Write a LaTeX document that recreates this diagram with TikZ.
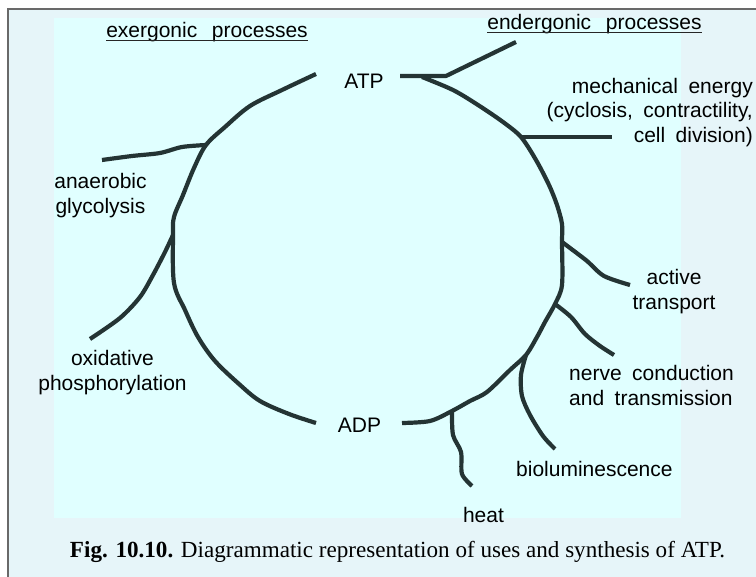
\documentclass[tikz,border=0pt]{standalone}
\usepackage{fontspec}
\setmainfont{Liberation Serif}
\newfontfamily\labfont{Liberation Sans}
\newcommand{\wgap}{\hspace{0.5em}}
\newcommand{\hgap}{\hspace{0.7em}}
\definecolor{outerbg}{RGB}{230,245,249}
\definecolor{innerbg}{RGB}{224,255,255}
\definecolor{framegray}{RGB}{105,105,105}
\definecolor{ink}{RGB}{36,52,52}
\begin{document}
\begin{tikzpicture}[x=1pt,y=-1pt,
  lab/.style={font=\labfont\fontsize{21}{24.5}\selectfont, inner sep=0pt, text=black},
  cyc/.style={draw=ink, line width=4.2pt, line cap=butt, line join=round},
  uline/.style={line width=1.4pt, draw=black!85}
]
\useasboundingbox (0,0) rectangle (756,577);
\fill[white] (0,0) rectangle (756,577);
\fill[outerbg] (8,9) rectangle (756,577);
\fill[innerbg] (54,18) rectangle (681,518);
\draw[framegray, line width=2pt] (8,577) -- (8,9) -- (756,9);

% headings
\node[lab, anchor=base] (exer) at (207,37.5) {exergonic\hgap processes};
\draw[uline] ([yshift=-3pt]exer.base west) -- ([yshift=-3pt]exer.base east);
\node[lab, anchor=base] (ender) at (594.5,30) {endergonic\hgap processes};
\draw[uline] ([yshift=-2.7pt]ender.base west) -- ([yshift=-2.7pt]ender.base east);

% labels
\node[lab, anchor=base] (atp) at (364,89) {ATP};
\node[lab, anchor=base] (adp) at (359.5,433) {ADP};
\node[lab, anchor=base east] (mech) at (753,93.3) {\begin{tabular}[t]{@{}r@{}}mechanical\wgap energy\\(cyclosis,\wgap contractility,\\cell\wgap division)\end{tabular}};
\node[lab, anchor=base] (anaer) at (100.5,189) {\begin{tabular}[t]{@{}c@{}}anaerobic\\glycolysis\end{tabular}};
\node[lab, anchor=base] (oxid) at (112.5,366) {\begin{tabular}[t]{@{}c@{}}oxidative\\phosphorylation\end{tabular}};
\node[lab, anchor=base] (activ) at (674,285) {\begin{tabular}[t]{@{}c@{}}active\\transport\end{tabular}};
\node[lab, anchor=base west] (nerve) at (569,381) {\begin{tabular}[t]{@{}l@{}}nerve\wgap conduction\\and\wgap transmission\end{tabular}};
\node[lab, anchor=base west] (biolum) at (516,477) {bioluminescence};
\node[lab, anchor=base] (heat) at (483.5,523) {heat};

% caption
\node[anchor=base, inner sep=0pt, font=\fontsize{23.1}{27}\selectfont] (cap) at (397.5,558)
  {\textbf{Fig. 10.10.} Diagrammatic representation of uses and synthesis of ATP.};

% left half of the cycle (ATP -> ADP, synthesis)
\coordinate (L0) at (316,74);
\coordinate (L1) at (282,90);
\coordinate (L2) at (250,106);
\coordinate (L3) at (225,127);
\coordinate (J1) at (206,145);
\coordinate (L4) at (194,168);
\coordinate (L5) at (183,195);
\coordinate (L6) at (174,217);
\coordinate (J2) at (173,235);
\coordinate (L7) at (174,283);
\coordinate (L8) at (185,310);
\coordinate (L9) at (198,337);
\coordinate (L10) at (215,361);
\coordinate (L11) at (239,384);
\coordinate (L12) at (260,401);
\coordinate (L13) at (289,414);
\coordinate (L14) at (316,423);
\draw[cyc] plot[smooth, tension=0.55] coordinates {(L0) (L1) (L2) (L3) (J1) (L4) (L5) (L6) (J2) (L7) (L8) (L9) (L10) (L11) (L12) (L13) (L14)};

% anaerobic glycolysis branch
\coordinate (A1) at (182,147);
\coordinate (A2) at (160,153);
\coordinate (A3) at (132,156);
\coordinate (AE) at (102,160);
\draw[cyc] plot[smooth, tension=0.5] coordinates {(J1) (A1) (A2) (A3) (AE)};

% oxidative phosphorylation branch
\coordinate (O1) at (165,252);
\coordinate (O2) at (153,275);
\coordinate (O3) at (140,297);
\coordinate (O4) at (120,318);
\coordinate (OE) at (90,339);
\draw[cyc] plot[smooth, tension=0.5] coordinates {(J2) (O1) (O2) (O3) (O4) (OE)};

% right half of the cycle (ATP -> ADP, uses)
\coordinate (R0) at (400,76);
\coordinate (J0) at (422,77);
\coordinate (JH) at (446,76);
\coordinate (EE) at (516,42);
\draw[cyc] (R0) -- (JH) -- (EE);

\coordinate (R1) at (453,90);
\coordinate (R2) at (478,105);
\coordinate (R3) at (503,122);
\coordinate (J3) at (521,137);
\coordinate (R4) at (536,160);
\coordinate (R5) at (549,185);
\coordinate (R6) at (557,205);
\coordinate (R6b) at (562,224);
\coordinate (J4) at (562,242);
\coordinate (R7) at (562,285);
\coordinate (J5) at (555,304);
\coordinate (R8) at (545,322);
\coordinate (R9) at (537,337);
\coordinate (J6) at (526,355);
\coordinate (R10) at (510,370);
\coordinate (R11) at (487,392);
\coordinate (R12) at (470,401);
\coordinate (J7) at (452,411);
\coordinate (R13) at (430,421);
\coordinate (R14) at (402,423);
\draw[cyc] plot[smooth, tension=0.5] coordinates {(J0) (R1) (R2) (R3) (J3) (R4) (R5) (R6) (R6b) (J4) (R7) (J5) (R8) (R9) (J6) (R10) (R11) (R12) (J7) (R13) (R14)};

% mechanical energy branch
\coordinate (ME) at (612,137);
\draw[cyc] (J3) -- (ME);

% active transport branch
\coordinate (T1) at (570,248);
\coordinate (T2) at (587,261);
\coordinate (T3) at (604,276);
\coordinate (TE) at (630,285);
\draw[cyc] plot[smooth, tension=0.5] coordinates {(J4) (T1) (T2) (T3) (TE)};

% nerve conduction branch
\coordinate (N1) at (571,317);
\coordinate (N2) at (585,334);
\coordinate (N3) at (600,346);
\coordinate (NE) at (614,355);
\draw[cyc] plot[smooth, tension=0.5] coordinates {(J5) (N1) (N2) (N3) (NE)};

% bioluminescence branch
\coordinate (B1) at (521,375);
\coordinate (B2) at (522,396);
\coordinate (B3) at (530,415);
\coordinate (B4) at (543,436);
\coordinate (BE) at (555,449);
\draw[cyc] plot[smooth, tension=0.5] coordinates {(J6) (B1) (B2) (B3) (B4) (BE)};

% heat branch
\coordinate (H1) at (453,435);
\coordinate (H2) at (461,452);
\coordinate (H3) at (462,474);
\coordinate (HE) at (472,486);
\draw[cyc] plot[smooth, tension=0.5] coordinates {(J7) (H1) (H2) (H3) (HE)};
\end{tikzpicture}
\end{document}
